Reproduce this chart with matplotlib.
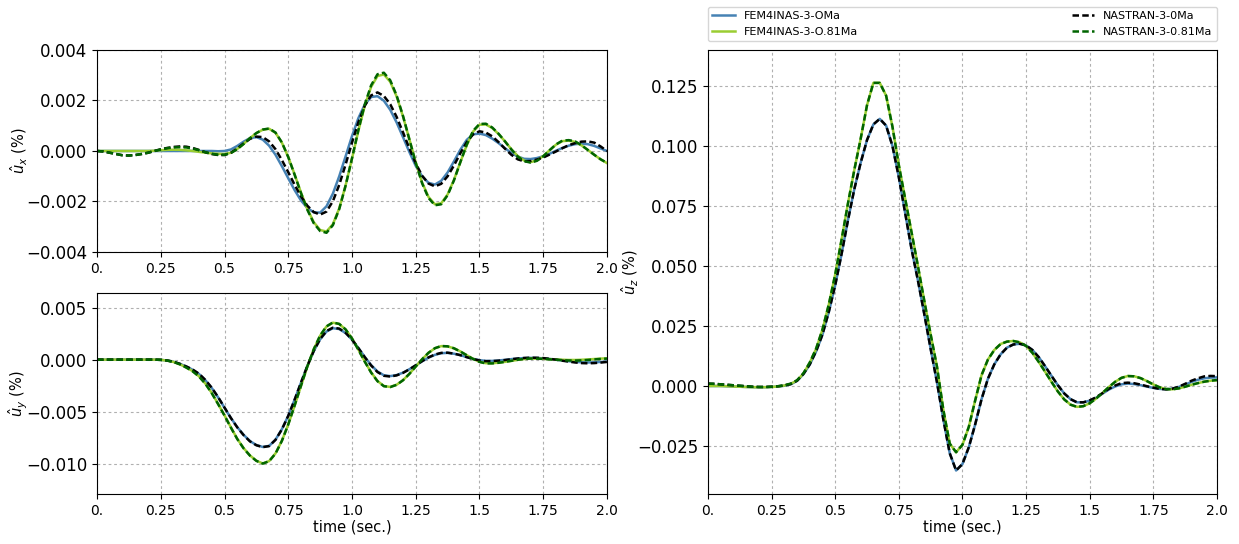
import matplotlib.pyplot as plt
import numpy as np

# time grid shared by all signals (s)
time = np.linspace(0.0, 2.0, 81)

# u_x, in units of 1e-3 %
ux_fem_0 = [0, 0, 0, 0, 0, 0, 0, 0, 0, 0,
            0, 0, 0, 0, 0, 0, 0, 0, 0, -0.01,
            0.0, 0.06, 0.20, 0.37, 0.51, 0.55, 0.45, 0.21, -0.15, -0.60,
            -1.08, -1.55, -1.96, -2.26, -2.43, -2.44, -2.19, -1.69, -1.00, -0.21,
            0.59, 1.30, 1.84, 2.14, 2.17, 1.99, 1.63, 1.13, 0.55, -0.04,
            -0.59, -1.00, -1.26, -1.33, -1.18, -0.85, -0.41, 0.05, 0.44, 0.66,
            0.69, 0.63, 0.49, 0.31, 0.11, -0.08, -0.22, -0.31, -0.32, -0.28,
            -0.21, -0.11, 0.01, 0.12, 0.21, 0.27, 0.29, 0.27, 0.20, 0.10,
            0.0]
ux_fem_81 = [0, 0, 0, 0, 0, 0, 0, 0, 0, 0.01,
             0.03, 0.045, 0.05, 0.045, 0.025, 0.0, -0.035, -0.067, -0.095, -0.113,
             -0.12, -0.07, 0.08, 0.28, 0.51, 0.71, 0.84, 0.88, 0.72, 0.33,
             -0.24, -0.93, -1.65, -2.30, -2.82, -3.13, -3.19, -2.90, -2.27, -1.36,
             -0.30, 0.80, 1.79, 2.54, 2.97, 3.03, 2.74, 2.16, 1.37, 0.46,
             -0.45, -1.25, -1.82, -2.11, -2.07, -1.72, -1.14, -0.44, 0.23, 0.77,
             1.04, 1.05, 0.91, 0.67, 0.38, 0.07, -0.20, -0.38, -0.44, -0.38,
             -0.20, 0.03, 0.25, 0.39, 0.41, 0.36, 0.22, 0.04, -0.15, -0.33,
             -0.48]
ux_nas_0 = [0, -0.02, -0.07, -0.12, -0.17, -0.18, -0.16, -0.12, -0.07, 0.0,
            0.07, 0.12, 0.16, 0.18, 0.17, 0.12, 0.04, -0.05, -0.12, -0.16,
            -0.16, -0.07, 0.10, 0.30, 0.48, 0.57, 0.55, 0.38, 0.07, -0.36,
            -0.84, -1.34, -1.80, -2.17, -2.42, -2.52, -2.40, -1.99, -1.34, -0.53,
            0.33, 1.14, 1.79, 2.20, 2.32, 2.18, 1.85, 1.35, 0.74, 0.10,
            -0.49, -0.98, -1.29, -1.40, -1.30, -1.00, -0.57, -0.09, 0.35, 0.66,
            0.78, 0.73, 0.58, 0.35, 0.09, -0.15, -0.33, -0.41, -0.40, -0.34,
            -0.26, -0.14, -0.02, 0.11, 0.23, 0.31, 0.37, 0.38, 0.33, 0.18,
            0.0]
ux_nas_81 = [0, -0.02, -0.07, -0.12, -0.17, -0.18, -0.16, -0.12, -0.07, 0.0,
             0.06, 0.11, 0.14, 0.15, 0.14, 0.10, 0.03, -0.05, -0.11, -0.15,
             -0.15, -0.08, 0.07, 0.28, 0.51, 0.71, 0.85, 0.89, 0.73, 0.34,
             -0.24, -0.94, -1.67, -2.33, -2.86, -3.17, -3.24, -2.94, -2.30, -1.37,
             -0.29, 0.83, 1.84, 2.60, 3.04, 3.10, 2.80, 2.20, 1.39, 0.46,
             -0.47, -1.28, -1.86, -2.15, -2.11, -1.75, -1.16, -0.44, 0.25, 0.80,
             1.07, 1.08, 0.93, 0.68, 0.38, 0.06, -0.22, -0.40, -0.46, -0.39,
             -0.21, 0.03, 0.26, 0.41, 0.43, 0.38, 0.23, 0.04, -0.15, -0.33,
             -0.47]

# u_y, in units of 1e-3 %
uy_fem_0 = [0, 0, 0, 0, 0, 0, 0, 0, 0, 0,
            -0.02, -0.08, -0.20, -0.40, -0.66, -0.97, -1.38, -1.98, -2.72, -3.62,
            -4.62, -5.60, -6.48, -7.22, -7.82, -8.20, -8.38, -8.28, -7.68, -6.68,
            -5.38, -3.84, -2.20, -0.60, 0.82, 1.95, 2.70, 3.02, 2.94, 2.55,
            1.92, 1.12, 0.26, -0.52, -1.14, -1.50, -1.58, -1.48, -1.25, -0.92,
            -0.55, -0.16, 0.19, 0.46, 0.62, 0.65, 0.57, 0.43, 0.25, 0.08,
            -0.05, -0.12, -0.12, -0.08, -0.02, 0.05, 0.11, 0.15, 0.17, 0.16,
            0.13, 0.07, 0.00, -0.08, -0.15, -0.21, -0.25, -0.27, -0.25, -0.22,
            -0.18]
uy_fem_81 = [0, 0, 0, 0, 0, 0, 0, 0, 0, 0,
             -0.02, -0.09, -0.22, -0.45, -0.75, -1.10, -1.60, -2.30, -3.20, -4.25,
             -5.35, -6.50, -7.60, -8.50, -9.20, -9.70, -9.97, -9.74, -9.00, -7.79,
             -6.22, -4.42, -2.52, -0.66, 0.98, 2.30, 3.18, 3.55, 3.42, 2.90,
             2.04, 0.97, -0.17, -1.22, -2.05, -2.53, -2.62, -2.41, -1.97, -1.36,
             -0.66, 0.04, 0.65, 1.09, 1.30, 1.27, 1.09, 0.79, 0.43, 0.08,
             -0.20, -0.34, -0.34, -0.29, -0.21, -0.12, -0.02, 0.06, 0.10, 0.10,
             0.08, 0.05, 0.02, -0.01, -0.03, -0.03, -0.01, 0.02, 0.06, 0.10,
             0.13]
uy_nas_0 = [0, 0, 0, 0, 0, 0, 0, 0, 0, 0,
            -0.02, -0.08, -0.20, -0.40, -0.65, -0.95, -1.35, -1.95, -2.70, -3.60,
            -4.60, -5.60, -6.50, -7.25, -7.85, -8.22, -8.40, -8.30, -7.70, -6.70,
            -5.40, -3.85, -2.20, -0.60, 0.84, 1.98, 2.75, 3.07, 2.98, 2.58,
            1.93, 1.11, 0.24, -0.56, -1.19, -1.55, -1.62, -1.51, -1.27, -0.93,
            -0.54, -0.14, 0.22, 0.49, 0.65, 0.67, 0.58, 0.43, 0.24, 0.06,
            -0.08, -0.15, -0.14, -0.10, -0.04, 0.04, 0.11, 0.16, 0.19, 0.18,
            0.15, 0.08, 0.00, -0.10, -0.19, -0.27, -0.33, -0.35, -0.33, -0.28,
            -0.22]
uy_nas_81 = [0, 0, 0, 0, 0, 0, 0, 0, 0, 0,
             -0.02, -0.09, -0.22, -0.45, -0.76, -1.12, -1.62, -2.32, -3.22, -4.27,
             -5.37, -6.52, -7.62, -8.52, -9.22, -9.72, -9.98, -9.75, -9.02, -7.80,
             -6.22, -4.40, -2.50, -0.64, 1.00, 2.32, 3.20, 3.57, 3.43, 2.90,
             2.03, 0.95, -0.19, -1.24, -2.07, -2.55, -2.63, -2.42, -1.98, -1.37,
             -0.66, 0.04, 0.66, 1.10, 1.31, 1.28, 1.09, 0.78, 0.42, 0.06,
             -0.22, -0.36, -0.36, -0.30, -0.21, -0.11, -0.01, 0.07, 0.11, 0.10,
             0.07, 0.03, -0.01, -0.05, -0.08, -0.09, -0.07, -0.03, 0.02, 0.07,
             0.10]

# u_z, in units of 1e-3 %
uz_fem_0 = [0.0, 0.0, 0.0, -0.1, -0.2, -0.3, -0.4, -0.5, -0.5, -0.5,
            -0.4, -0.2, 0.1, 0.7, 2.1, 4.9, 8.9, 14.4, 21.4, 30.9,
            42.0, 55.0, 69.0, 82.0, 93.0, 102.5, 109.0, 111.3, 108.5, 100.0,
            87.0, 72.0, 57.0, 44.0, 30.0, 15.5, 1.5, -14.0, -28.0, -35.2,
            -32.5, -25.5, -16.0, -5.5, 3.0, 9.0, 13.2, 16.0, 17.3, 17.6,
            16.9, 15.0, 12.0, 8.2, 4.2, 0.3, -3.1, -5.5, -6.8, -6.8,
            -6.1, -4.9, -3.2, -1.5, -0.2, 0.7, 1.0, 0.8, 0.35, -0.25,
            -0.8, -1.2, -1.35, -1.1, -0.4, 0.6, 1.7, 2.6, 3.2, 3.5,
            3.6]
uz_fem_81 = [0.0, 0.0, 0.0, -0.1, -0.2, -0.3, -0.4, -0.5, -0.5, -0.5,
             -0.4, -0.2, 0.2, 0.9, 2.3, 5.2, 9.7, 15.5, 23.5, 34.0,
             46.5, 61.0, 76.0, 90.0, 103.0, 117.0, 126.3, 126.3, 121.0, 108.0,
             92.0, 78.0, 64.0, 50.0, 35.5, 21.5, 8.0, -10.0, -24.0, -27.6,
             -24.5, -17.0, -6.0, 4.5, 11.0, 15.0, 17.5, 18.5, 18.75, 18.2,
             16.7, 13.8, 10.0, 5.9, 1.7, -2.3, -5.6, -7.8, -8.7, -8.4,
             -7.2, -5.25, -2.9, -0.45, 1.75, 3.4, 4.15, 4.04, 3.28, 2.04,
             0.65, -0.56, -1.27, -1.38, -1.0, -0.3, 0.5, 1.2, 1.8, 2.2,
             2.4]
uz_nas_0 = [1.0, 0.9, 0.7, 0.5, 0.3, 0.1, -0.1, -0.3, -0.4, -0.4,
            -0.3, -0.1, 0.2, 0.8, 2.2, 5.0, 9.0, 14.5, 21.5, 31.0,
            42.0, 55.0, 69.0, 82.0, 93.0, 102.5, 109.0, 111.3, 108.5, 100.0,
            87.0, 72.0, 57.0, 44.0, 30.0, 15.5, 1.5, -14.0, -28.0, -35.2,
            -32.5, -25.5, -16.0, -5.5, 3.0, 9.0, 13.2, 16.0, 17.3, 17.6,
            16.9, 15.0, 12.0, 8.2, 4.2, 0.3, -3.1, -5.5, -6.8, -6.8,
            -6.0, -4.7, -3.0, -1.2, 0.2, 1.2, 1.4, 1.15, 0.6, -0.1,
            -0.7, -1.2, -1.4, -1.1, -0.3, 0.9, 2.2, 3.2, 4.0, 4.2,
            4.1]
uz_nas_81 = [1.0, 0.9, 0.7, 0.5, 0.3, 0.1, -0.1, -0.3, -0.4, -0.4,
             -0.3, -0.1, 0.3, 1.0, 2.4, 5.3, 9.8, 15.6, 23.6, 34.1,
             46.5, 61.0, 76.0, 90.0, 103.0, 117.0, 126.3, 126.3, 121.0, 108.0,
             92.0, 78.0, 64.0, 50.0, 35.5, 21.5, 8.0, -10.0, -24.0, -27.6,
             -24.5, -17.0, -6.0, 4.5, 11.0, 15.0, 17.5, 18.5, 18.75, 18.2,
             16.7, 13.8, 10.0, 5.9, 1.7, -2.3, -5.6, -7.8, -8.7, -8.4,
             -7.2, -5.25, -2.9, -0.45, 1.75, 3.4, 4.15, 4.04, 3.28, 2.04,
             0.65, -0.56, -1.27, -1.38, -1.0, -0.3, 0.5, 1.2, 1.8, 2.2,
             2.5]

labels = ["FEM4INAS-3-OMa", "FEM4INAS-3-O.81Ma", "NASTRAN-3-0Ma", "NASTRAN-3-0.81Ma"]
colors = ["#4682b4", "yellowgreen", "black", "darkgreen"]
xticks = [0.0, 0.25, 0.5, 0.75, 1.0, 1.25, 1.5, 1.75, 2.0]
xticklabels = ["0.", "0.25", "0.5", "0.75", "1.0", "1.25", "1.5", "1.75", "2.0"]


def draw(ax, fem0, fem81, nas0, nas81, ylabel, ylim):
    series = [fem0, fem81, nas0, nas81]
    for i, vals in enumerate(series):
        ls = "-" if i < 2 else (0, (2.6, 1.3))
        ax.plot(time, np.array(vals) * 1e-3, color=colors[i], lw=1.8,
                linestyle=ls, label=labels[i])
    ax.set_xlim(0, 2.0)
    ax.set_ylim(*ylim)
    ax.set_xticks(xticks)
    ax.set_xticklabels(xticklabels)
    ax.tick_params(axis="x", labelsize=10)
    ax.tick_params(axis="y", labelsize=12)
    ax.set_ylabel(ylabel, fontsize=10.5, labelpad=-3)
    ax.grid(True, color="#b0b0b0", lw=0.8, linestyle=(0, (2.5, 2.5)))


fig = plt.figure(figsize=(12.39, 5.44), dpi=100)
ax_x = fig.add_axes([0.0783, 0.5368, 0.4116, 0.3713])
ax_y = fig.add_axes([0.0783, 0.0919, 0.4116, 0.3695])
ax_z = fig.add_axes([0.5714, 0.0919, 0.4108, 0.8162])

draw(ax_x, ux_fem_0, ux_fem_81, ux_nas_0, ux_nas_81, r"$\hat{u}_x$ (%)", (-0.004, 0.004))
ax_x.set_yticks([-0.004, -0.002, 0.0, 0.002, 0.004])
draw(ax_y, uy_fem_0, uy_fem_81, uy_nas_0, uy_nas_81, r"$\hat{u}_y$ (%)", (-0.0129, 0.0064))
ax_y.set_yticks([-0.010, -0.005, 0.0, 0.005])
draw(ax_z, uz_fem_0, uz_fem_81, uz_nas_0, uz_nas_81, r"$\hat{u}_z$ (%)", (-0.045, 0.14))
ax_z.set_yticks([-0.025, 0.0, 0.025, 0.05, 0.075, 0.1, 0.125])

ax_y.set_xlabel("time (sec.)", fontsize=10.5, labelpad=1)
ax_z.set_xlabel("time (sec.)", fontsize=10.5, labelpad=1)

ax_z.legend(loc="lower left", bbox_to_anchor=(0, 1.02, 1, 0.1), mode="expand",
            ncol=2, fontsize=8, borderaxespad=0)

fig.savefig("out.png", dpi=100)
